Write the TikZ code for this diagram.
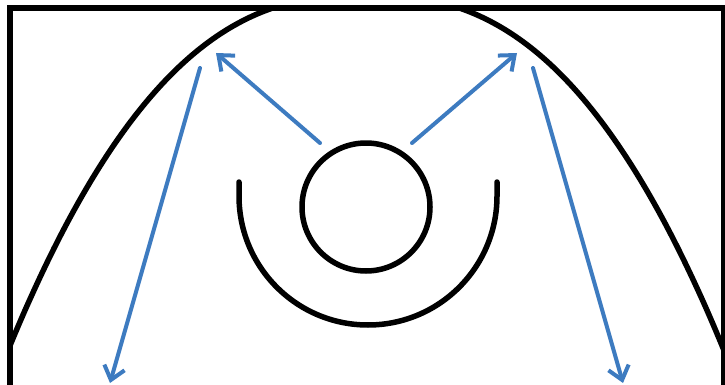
\documentclass[tikz,border=0pt]{standalone}
\usetikzlibrary{arrows.meta}
\begin{document}
\begin{tikzpicture}[x=1pt,y=-1pt,line cap=round,line join=round,
  outline/.style={black,line width=5.5pt},
  ray/.style={rayblue,line width=4pt,-{Straight Barb[length=13pt,width=21pt]}}]
\definecolor{rayblue}{HTML}{3D7BC0}
\clip (0,0) rectangle (725,385);
% frame, bottom edge is cut off
\draw[black,line width=6.5pt,line join=miter,line cap=butt] (10,400) -- (10,8) -- (724,8) -- (724,400);
% dome
\begin{scope}
\clip (10,8) rectangle (724,400);
\draw[outline] plot[domain=-372:372,samples=100,smooth] ({366+\x},{-5+15.4*pow(abs(\x)/100,2.4615)});
\end{scope}
% core and cup
\node[draw,circle,outline,minimum size=128pt,inner sep=0pt] (core) at (366,207) {};
\draw[outline] (239,182) -- (239,196) arc[start angle=180,end angle=0,radius=129] -- (497,182);
% rays
\draw[ray] (320,143) -- (216,53);
\draw[ray] (412,143) -- (517,53);
\draw[ray] (200,68) -- (110,383);
\draw[ray] (533,68) -- (623,383);
\end{tikzpicture}
\end{document}
